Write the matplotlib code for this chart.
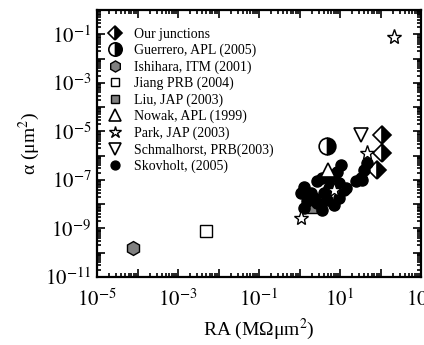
import numpy as np
import matplotlib
matplotlib.use("Agg")
import matplotlib.pyplot as plt
from matplotlib.ticker import LogLocator, FuncFormatter, NullFormatter

plt.rcParams['font.family'] = ['Liberation Serif', 'DejaVu Serif']
plt.rcParams['mathtext.fontset'] = 'stix'

# data (RA in MOhm um^2, alpha in um^2)
ours_ra = [111, 111, 84]
ours_a = [7.2e-6, 1.3e-6, 2.6e-7]
guerrero_ra = [4.85]
guerrero_a = [2.4e-6]
ishihara_ra = [7.6e-5]
ishihara_a = [1.56e-10]
jiang_ra = [4.9e-3]
jiang_a = [7.5e-10]
liu_ra = [1.95]
liu_a = [7.8e-9]
nowak_ra = [4.93]
nowak_a = [2.6e-7]
park_ra = [1.06, 6.95, 47, 212]
park_a = [2.75e-9, 3.9e-8, 1.3e-6, 0.078]
schmal_ra = [32.4]
schmal_a = [7.2e-6]
skov_ra = [10.4, 8.6, 3.65, 2.74, 5.85, 1.28, 1.06, 1.87, 4.0, 12.5, 9.4, 4.85, 2.74,
           1.55, 1.28, 3.65, 7.06, 32.4, 24.3, 47.4, 35.6, 39, 13.8, 2.22, 5.22, 9.2]
skov_a = [4.2e-7, 2.2e-7, 1.22e-7, 8.6e-8, 8.6e-8, 5.35e-8, 2.86e-8, 2.86e-8, 2.86e-8,
          3.9e-8, 1.78e-8, 1.52e-8, 1.14e-8, 1.29e-8, 7.1e-9, 5.9e-9, 9.4e-9, 1.19e-7,
          8.6e-8, 4.9e-7, 1.0e-7, 2.6e-7, 4.7e-8, 1.83e-8, 4.7e-8, 7.6e-8]

fig = plt.figure(figsize=(4.24, 3.45), dpi=100)
ax = fig.add_axes([97/424, 68/345, 324/424, 267/345])

ax.plot(ours_ra, ours_a, 'D', ms=9, mfc='black', mfcalt='white', fillstyle='right',
        mec='black', mew=1.2, ls='none', label='Our junctions')
ax.plot(guerrero_ra, guerrero_a, 'o', ms=12, mfc='black', mfcalt='white', fillstyle='right',
        mec='black', mew=1.2, ls='none', label='Guerrero, APL (2005)')
ax.plot(ishihara_ra, ishihara_a, 'h', ms=10, mfc='#808080', mec='black', mew=1,
        ls='none', label='Ishihara, ITM (2001)')
ax.plot(jiang_ra, jiang_a, 's', ms=8, mfc='white', mec='black', mew=1,
        ls='none', label='Jiang PRB (2004)')
ax.plot(liu_ra, liu_a, 's', ms=8, mfc='#808080', mec='black', mew=1,
        ls='none', label='Liu, JAP (2003)')
ax.plot(skov_ra, skov_a, 'o', ms=8, mfc='black', mec='black',
        ls='none', label='Skovholt, (2005)')
ax.plot(nowak_ra, nowak_a, '^', ms=10, mfc='white', mec='black', mew=1.2,
        ls='none', label='Nowak, APL (1999)')
ax.plot(park_ra, park_a, '*', ms=11, mfc='white', mec='black', mew=1,
        ls='none', label='Park, JAP (2003)')
ax.plot(schmal_ra, schmal_a, 'v', ms=10, mfc='white', mec='black', mew=1.2,
        ls='none', label='Schmalhorst, PRB(2003)')

ax.set_xscale('log')
ax.set_yscale('log')
ax.set_xlim(1e-5, 1e3)
ax.set_ylim(1e-11, 1e0)

def odd_exp(v, pos):
    e = int(round(np.log10(v)))
    if e % 2 == 0:
        return ''
    return '$10^{%d}$' % e

for axis in (ax.xaxis, ax.yaxis):
    axis.set_major_locator(LogLocator(base=10, numticks=30))
    axis.set_minor_locator(LogLocator(base=10, subs=np.arange(2, 10), numticks=30))
    axis.set_major_formatter(FuncFormatter(odd_exp))
    axis.set_minor_formatter(NullFormatter())

ax.tick_params(which='both', direction='in', top=True, right=True, width=1.2)
ax.tick_params(which='major', length=6, labelsize=15)
ax.tick_params(axis='x', which='major', pad=9)
ax.tick_params(axis='y', which='major', pad=4)
ax.tick_params(which='minor', length=3)
for s in ax.spines.values():
    s.set_linewidth(1.6)

ax.set_xlabel('RA (M\u03a9\u03bcm$^2$)', fontsize=14, labelpad=4)
ax.set_ylabel('\u03b1 (\u03bcm$^2$)', fontsize=14, labelpad=2)

h, l = ax.get_legend_handles_labels()
order = [0, 1, 2, 3, 4, 6, 7, 8, 5]
ax.legend([h[i] for i in order], [l[i] for i in order], loc='upper left',
          bbox_to_anchor=(0.0, 0.975), frameon=False,
          fontsize=10, handletextpad=0.9, labelspacing=0.22, borderaxespad=0.4,
          handlelength=1.0, markerscale=0.8)

fig.savefig('out.png', dpi=100)
